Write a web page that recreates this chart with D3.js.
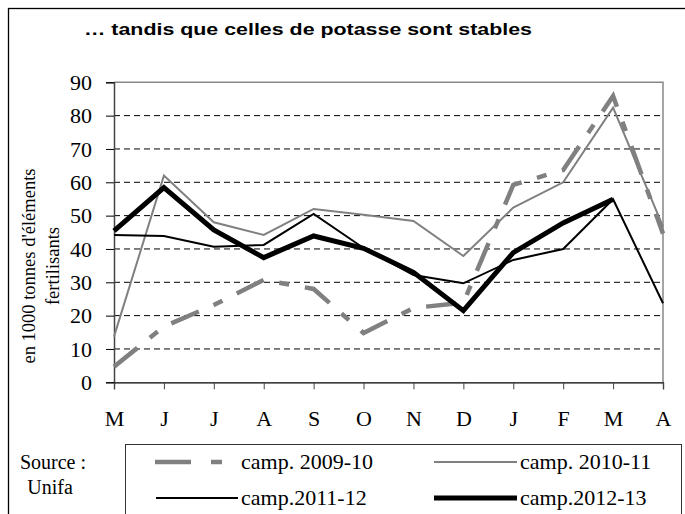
<!DOCTYPE html>
<html lang="fr">
<head>
<meta charset="UTF-8">
<title>Potasse</title>
<style>
  body { margin: 0; background: #fff; }
  svg { display: block; }
</style>
</head>
<body>
<svg id="chart" width="685" height="514"></svg>
<script src="https://d3js.org/d3.v7.min.js"></script>
<script>
// mois de la campagne (mai -> avril)
const months = ["M", "J", "J", "A", "S", "O", "N", "D", "J", "F", "M", "A"];
const yTicks = [0, 10, 20, 30, 40, 50, 60, 70, 80, 90];

// en 1000 tonnes d'éléments fertilisants
const camp0910 = [4.7, 16.7, 23.2, 30.7, 28, 14.8, 22.3, 23.9, 59.2, 63.7, 85.9, 44.6];
const camp1011 = [13.7, 62, 48, 44.2, 52, 50.3, 48.4, 37.9, 52.4, 60, 82.4, 46.7];
const camp1112 = [44.2, 43.9, 40.7, 41.2, 50.5, 40.3, 32.2, 29.7, 36.7, 40, 54.9, 23.7];
const camp1213 = [45.4, 58.4, 45.7, 37.4, 43.9, 40.2, 33, 21.5, 38.9, 47.8, 54.9, null];

const seriesNames = ["camp. 2009-10", "camp. 2010-11", "camp.2011-12", "camp.2012-13"];

const svg = d3.select("#chart");
const serif = "'Liberation Serif', 'Times New Roman', serif";

// plot area
const plotLeft = 114, plotRight = 663, plotTop = 82.3, plotBottom = 382.3;

const x = d3.scalePoint()
  .domain(d3.range(months.length))
  .range([plotLeft, plotRight]);

const y = d3.scaleLinear()
  .domain([0, 90])
  .range([plotBottom, plotTop]);

// outer frame (runs off the picture on the right and bottom)
svg.append("rect")
  .attr("x", 8.5).attr("y", 8.5)
  .attr("width", 700).attr("height", 520)
  .attr("fill", "none")
  .attr("stroke", "#000")
  .attr("stroke-width", 1.3);

// title
svg.append("text")
  .attr("x", 84).attr("y", 35)
  .attr("textLength", 448)
  .attr("lengthAdjust", "spacingAndGlyphs")
  .style("font-family", "'Liberation Sans', Arial, sans-serif")
  .style("font-weight", "bold")
  .style("font-size", "17px")
  .text("… tandis que celles de potasse sont stables");

// dashed gridlines
svg.append("g")
  .selectAll("line")
  .data(yTicks.filter(d => d > 0 && d < 90))
  .join("line")
  .attr("x1", plotLeft).attr("x2", plotRight)
  .attr("y1", d => y(d)).attr("y2", d => y(d))
  .attr("stroke", "#000")
  .attr("stroke-width", 1)
  .attr("stroke-dasharray", "6,4");

// top and right border of the plot
svg.append("path")
  .attr("d", `M${plotLeft},${plotTop}H${plotRight}V${plotBottom}`)
  .attr("fill", "none")
  .attr("stroke", "#888")
  .attr("stroke-width", 1.5);

// y axis
const yAxis = svg.append("g")
  .attr("transform", `translate(${plotLeft},0)`)
  .call(d3.axisLeft(y).tickValues(yTicks).tickSize(8).tickPadding(14));
yAxis.select(".domain").attr("stroke", "#444").attr("stroke-width", 1.5);
yAxis.selectAll(".tick line").attr("stroke", "#000");
yAxis.selectAll("text")
  .style("font-family", serif)
  .style("font-size", "22px")
  .attr("fill", "#000");

// x axis
const xAxis = svg.append("g")
  .attr("transform", `translate(0,${plotBottom})`)
  .call(d3.axisBottom(x).tickFormat(i => months[i]).tickSize(7).tickPadding(21));
xAxis.select(".domain").attr("stroke", "#000").attr("stroke-width", 1.3);
xAxis.selectAll(".tick line").attr("stroke", "#444");
xAxis.selectAll("text")
  .style("font-family", serif)
  .style("font-size", "22px")
  .attr("fill", "#000");

// y axis title, two lines
const yTitle = svg.append("text")
  .attr("transform", "translate(35,266) rotate(-90)")
  .attr("text-anchor", "middle")
  .style("font-family", serif)
  .style("font-size", "18.5px");
yTitle.append("tspan").attr("x", 0).attr("y", 0).text("en 1000 tonnes d'éléments");
yTitle.append("tspan").attr("x", 0).attr("y", 24).text("fertilisants");

// series
const styles = [
  { data: camp0910, color: "#808080", width: 4.5, dash: "30,16,10,16" },
  { data: camp1011, color: "#808080", width: 2, dash: null },
  { data: camp1112, color: "#000", width: 2, dash: null },
  { data: camp1213, color: "#000", width: 5, dash: null }
];

const line = d3.line()
  .defined(d => d != null)
  .x((d, i) => x(i))
  .y(d => y(d));

svg.append("g")
  .selectAll("path")
  .data(styles)
  .join("path")
  .attr("d", s => line(s.data))
  .attr("fill", "none")
  .attr("stroke", s => s.color)
  .attr("stroke-width", s => s.width)
  .attr("stroke-dasharray", s => s.dash)
  .attr("stroke-linejoin", "miter");

// source
svg.append("text")
  .attr("x", 53).attr("y", 469)
  .attr("text-anchor", "middle")
  .style("font-family", serif).style("font-size", "20px")
  .text("Source :");
svg.append("text")
  .attr("x", 50).attr("y", 494)
  .attr("text-anchor", "middle")
  .style("font-family", serif).style("font-size", "20px")
  .text("Unifa");

// legend
svg.append("rect")
  .attr("x", 125.5).attr("y", 444.5)
  .attr("width", 556).attr("height", 80)
  .attr("fill", "none")
  .attr("stroke", "#333")
  .attr("stroke-width", 1);

const legendPos = [
  { x1: 155, x2: 238, y: 462 },
  { x1: 434, x2: 517, y: 462 },
  { x1: 156, x2: 238, y: 498 },
  { x1: 434, x2: 517, y: 498 }
];

const legend = svg.append("g")
  .selectAll("g")
  .data(styles)
  .join("g");

legend.append("line")
  .attr("x1", (s, i) => legendPos[i].x1)
  .attr("x2", (s, i) => legendPos[i].x2)
  .attr("y1", (s, i) => legendPos[i].y)
  .attr("y2", (s, i) => legendPos[i].y)
  .attr("stroke", s => s.color)
  .attr("stroke-width", s => s.width)
  .attr("stroke-dasharray", s => s.dash ? "36,20,11,20" : null);

legend.append("text")
  .attr("x", (s, i) => legendPos[i].x2 + 3)
  .attr("y", (s, i) => legendPos[i].y + 7)
  .style("font-family", serif)
  .style("font-size", "22px")
  .text((s, i) => seriesNames[i]);
</script>
</body>
</html>
